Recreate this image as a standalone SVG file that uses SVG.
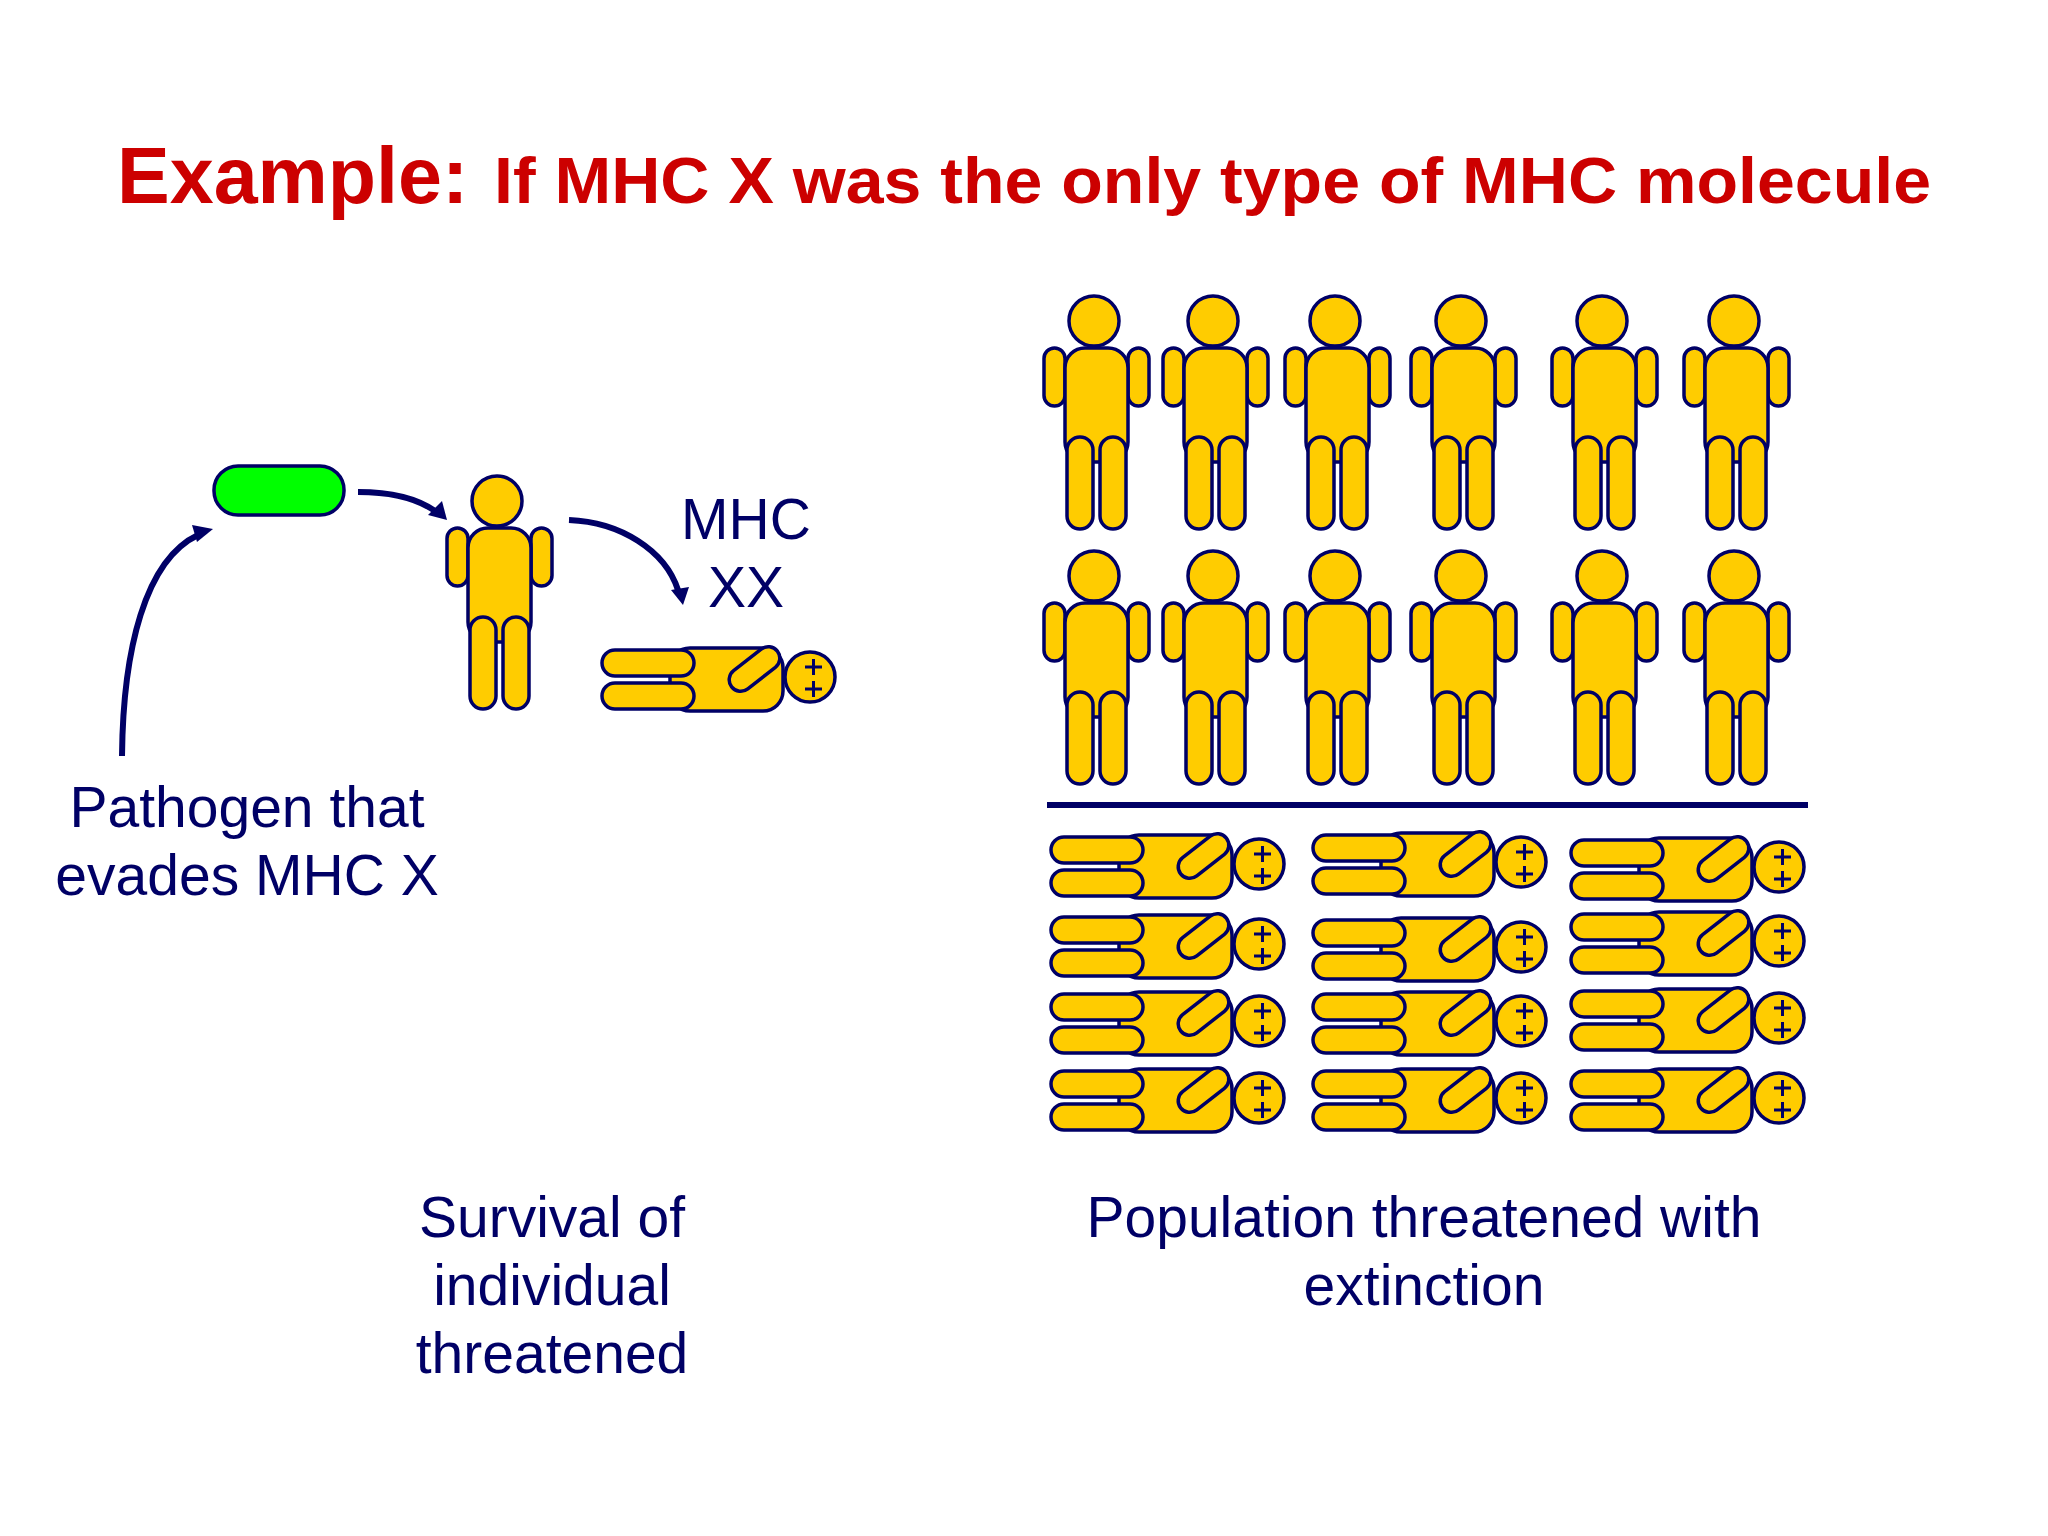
<svg xmlns="http://www.w3.org/2000/svg" xmlns:xlink="http://www.w3.org/1999/xlink" width="2048" height="1536" viewBox="0 0 2048 1536">
<style>
.t{font-family:"Liberation Sans",Arial,sans-serif;fill:#000066;font-size:57px;text-anchor:middle}
.h{font-family:"Liberation Sans",Arial,sans-serif;fill:#CC0000;font-weight:bold}
.p{fill:#FFCC00;stroke:#000066;stroke-width:3.500}
.c{fill:none;stroke:#000066;stroke-width:6}
.a{fill:#000066;stroke:none}
.x{fill:none;stroke:#000066;stroke-width:3}
</style>
<defs>
<g id="stand">
<rect class="p" x="-50" y="27" width="21" height="58" rx="10.500"/>
<rect class="p" x="34" y="27" width="21" height="58" rx="10.500"/>
<rect class="p" x="-29" y="27" width="63" height="114" rx="20"/>
<circle class="p" cx="0" cy="0" r="25"/>
<rect class="p" x="-27" y="116" width="26" height="92" rx="13"/>
<rect class="p" x="6" y="116" width="26" height="92" rx="13"/>
</g>
<g id="lie">
<rect class="p" x="-140" y="-29" width="113" height="63" rx="20"/>
<circle class="p" cx="0" cy="0" r="25"/>
<rect class="p" x="-208" y="-27" width="92" height="26" rx="13"/>
<rect class="p" x="-208" y="6" width="92" height="26" rx="13"/>
<rect class="p" x="-84.500" y="-19.500" width="58" height="23" rx="11.500" transform="rotate(-38 -55.500 -8)"/>
<path class="x" d="M-5,-10H12M3.500,-18V-2M-5,12H12M3.500,4V20"/>
</g>
</defs>
<rect width="2048" height="1536" fill="#fff"/>
<text class="h" x="117" y="203" font-size="79">Example:</text>
<text class="h" x="494" y="203" font-size="64" textLength="1437" lengthAdjust="spacingAndGlyphs">If MHC X was the only type of MHC molecule</text>

<g id="connectors">
<path class="c" d="M122,756C123,650 145,560 198,535"/>
<path class="a" d="M213,529L192,525L197,542Z"/>
<path class="c" d="M358,492C390,492 415,497 435,511"/>
<path class="a" d="M447,520L442,501L428,515Z"/>
<path class="c" d="M569,520C620,522 665,550 678,590"/>
<path class="a" d="M683,605L689,587L671,590Z"/>
<path d="M1047,805H1808" fill="none" stroke="#000066" stroke-width="6"/>
</g>

<g id="pathogen"><rect x="214" y="466" width="130" height="49" rx="24" fill="#00FF00" stroke="#000066" stroke-width="3.500"/></g>
<g id="person-main"><use href="#stand" x="497" y="501"/></g>
<g id="person-dead"><use href="#lie" x="810" y="677"/></g>

<g id="s1"><use href="#stand" x="1094" y="321"/></g>
<g id="s2"><use href="#stand" x="1213" y="321"/></g>
<g id="s3"><use href="#stand" x="1335" y="321"/></g>
<g id="s4"><use href="#stand" x="1461" y="321"/></g>
<g id="s5"><use href="#stand" x="1602" y="321"/></g>
<g id="s6"><use href="#stand" x="1734" y="321"/></g>
<g id="s7"><use href="#stand" x="1094" y="576"/></g>
<g id="s8"><use href="#stand" x="1213" y="576"/></g>
<g id="s9"><use href="#stand" x="1335" y="576"/></g>
<g id="s10"><use href="#stand" x="1461" y="576"/></g>
<g id="s11"><use href="#stand" x="1602" y="576"/></g>
<g id="s12"><use href="#stand" x="1734" y="576"/></g>

<g id="l1"><use href="#lie" x="1259" y="864"/></g>
<g id="l2"><use href="#lie" x="1259" y="944"/></g>
<g id="l3"><use href="#lie" x="1259" y="1021"/></g>
<g id="l4"><use href="#lie" x="1259" y="1098"/></g>
<g id="l5"><use href="#lie" x="1521" y="862"/></g>
<g id="l6"><use href="#lie" x="1521" y="947"/></g>
<g id="l7"><use href="#lie" x="1521" y="1021"/></g>
<g id="l8"><use href="#lie" x="1521" y="1098"/></g>
<g id="l9"><use href="#lie" x="1779" y="867"/></g>
<g id="l10"><use href="#lie" x="1779" y="941"/></g>
<g id="l11"><use href="#lie" x="1779" y="1018"/></g>
<g id="l12"><use href="#lie" x="1779" y="1098"/></g>

<text class="t" x="746" y="539">MHC</text>
<text class="t" x="746" y="607">XX</text>
<text class="t" x="247" y="827">Pathogen that</text>
<text class="t" x="247" y="895">evades MHC X</text>
<text class="t" x="552" y="1237">Survival of</text>
<text class="t" x="552" y="1305">individual</text>
<text class="t" x="552" y="1373">threatened</text>
<text class="t" x="1424" y="1237">Population threatened with</text>
<text class="t" x="1424" y="1305">extinction</text>
</svg>
